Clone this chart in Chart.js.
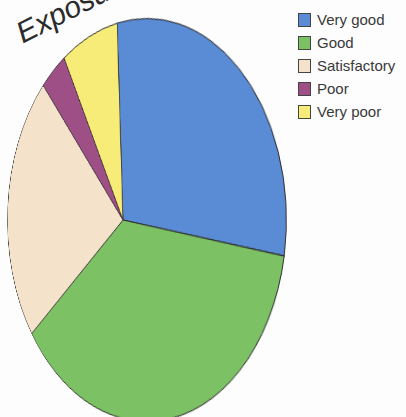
<!DOCTYPE html>
<html>
<head>
<meta charset="utf-8">
<script src="https://cdn.jsdelivr.net/npm/chart.js@4/dist/chart.umd.min.js"></script>
<style>
  html, body { margin: 0; padding: 0; background: #fdfdfd; }
  body { width: 406px; height: 417px; position: relative; overflow: hidden; font-family: "Liberation Sans", Arial, sans-serif; }
  /* photo is taken at an angle, so tilt the pie a bit */
  #pieWrap {
    position: absolute; left: -76px; top: 21px; width: 398px; height: 398px;
    transform: perspective(846px) rotateY(-47deg);
  }
  #title {
    position: absolute; left: 26px; top: 16px;
    font-size: 30px; font-style: italic; color: #2b2b2b;
    transform-origin: 0 100%; transform: rotate(-27deg);
    white-space: nowrap;
  }
  #legend { position: absolute; left: 298px; top: 8px; }
  .item { display: flex; align-items: center; height: 23px; }
  .box { width: 11px; height: 12px; border: 1px solid #444; margin-right: 6px; }
  .label { font-size: 15px; color: #3a3a3a; }
</style>
</head>
<body>
<div id="title">Exposure</div>
<div id="pieWrap"><canvas id="pie"></canvas></div>
<div id="legend"></div>
<script>
// Data
const categories = ['Very good', 'Good', 'Satisfactory', 'Poor', 'Very poor'];
const shares = [28.1, 36.4, 24.8, 3.6, 7.1];
const sliceColors = ['#5a8cd6', '#7cc264', '#f5e2cb', '#9e4f86', '#f8ec78'];

// Legend built from the same arrays
const legend = document.getElementById('legend');
categories.forEach(function(name, i) {
    const row = document.createElement('div');
    row.className = 'item';
    row.innerHTML = '<span class="box" style="background:' + sliceColors[i] + '"></span><span class="label">' + name + '</span>';
    legend.appendChild(row);
});

const ctx = document.getElementById('pie').getContext('2d');
new Chart(ctx, {
    type: 'pie',
    data: {
        labels: categories,
        datasets: [{
            data: shares,
            backgroundColor: sliceColors,
            borderColor: '#2a2a2a',
            borderWidth: 1,
            hoverOffset: 0
        }]
    },
    options: {
        responsive: true,
        maintainAspectRatio: false,
        animation: false,
        rotation: -2.5,
        layout: { padding: 0 },
        plugins: {
            legend: { display: false },
            tooltip: { enabled: false }
        }
    }
});
</script>
</body>
</html>
